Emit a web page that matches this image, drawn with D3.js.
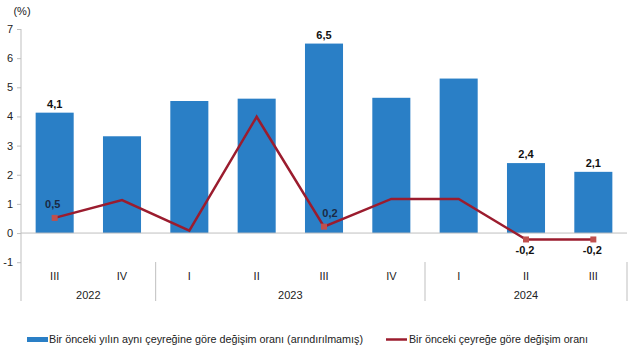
<!DOCTYPE html>
<html><head><meta charset="utf-8">
<script src="https://cdn.jsdelivr.net/npm/d3@7"></script>
<style>body{margin:0;background:#fff}svg{display:block;font-family:"Liberation Sans",Arial,sans-serif}</style>
</head><body><svg id="c" width="641" height="355"></svg>
<script>
const quarters = ["III","IV","I","II","III","IV","I","II","III"];
const years = [{label:"2022",from:0,to:2},{label:"2023",from:2,to:6},{label:"2024",from:6,to:9}];
const annual = [4.13,3.32,4.53,4.61,6.5,4.64,5.3,2.4,2.1];
const annualLabels = ["4,1",null,null,null,"6,5",null,null,"2,4","2,1"];
const quarterly = [0.52,1.13,0.08,3.99,0.22,1.17,1.17,-0.22,-0.22];
const quarterlyLabels = ["0,5",null,null,null,"0,2",null,null,"-0,2","-0,2"];
const yTicks = [-1,0,1,2,3,4,5,6,7];
const legendNames = ["Bir önceki yılın aynı çeyreğine göre değişim oranı (arındırılmamış)","Bir önceki çeyreğe göre değişim oranı"];

const svg = d3.select("#c");
const x = d3.scaleBand().domain(d3.range(quarters.length)).range([21,627]).paddingInner(0.435).paddingOuter(0.2175);
const y = d3.scaleLinear().domain([-1,7]).range([262.2,29]);
const axisCol = "#bfbfbf";
const blue = "#2a7fc6", red = "#9b1c2e", marker = "#c0504d";

// y axis
const ya = svg.append("g").attr("transform","translate(21,0)")
  .call(d3.axisLeft(y).tickValues(yTicks).tickSize(4).tickFormat(d=>d));
ya.select(".domain").remove();
ya.selectAll(".tick line").attr("stroke",axisCol);
ya.selectAll(".tick text").attr("font-size",11).attr("fill","#222").attr("x",-8);
svg.append("line").attr("x1",21).attr("x2",21).attr("y1",y(7)).attr("y2",301).attr("stroke",axisCol);

svg.append("text").attr("x",22).attr("y",15).attr("text-anchor","middle").attr("font-size",11).attr("fill","#222").text("(%)");

// bars
svg.selectAll("rect.bar").data(annual).join("rect").attr("class","bar")
  .attr("x",(d,i)=>x(i)).attr("width",x.bandwidth())
  .attr("y",d=>y(Math.max(0,d))).attr("height",d=>Math.abs(y(d)-y(0)))
  .attr("fill",blue);

// zero line
svg.append("line").attr("x1",21).attr("x2",627).attr("y1",y(0)).attr("y2",y(0)).attr("stroke",axisCol);

// x category separators
const step = x.step();
const seps = [2,6,9];
svg.selectAll("line.sep").data(seps).join("line").attr("class","sep")
  .attr("x1",d=>21+d*step).attr("x2",d=>21+d*step).attr("y1",262).attr("y2",301).attr("stroke",axisCol);

svg.selectAll("text.q").data(quarters).join("text").attr("class","q")
  .attr("x",(d,i)=>x(i)+x.bandwidth()/2).attr("y",280).attr("text-anchor","middle")
  .attr("font-size",11).attr("fill","#222").text(d=>d);
svg.selectAll("text.yr").data(years).join("text").attr("class","yr")
  .attr("x",d=>21+(d.from+d.to)/2*step).attr("y",299).attr("text-anchor","middle")
  .attr("font-size",11).attr("fill","#222").text(d=>d.label);

// line
const cx = i=>x(i)+x.bandwidth()/2;
svg.append("path").datum(quarterly)
  .attr("d",d3.line().x((d,i)=>cx(i)).y(d=>y(d)))
  .attr("fill","none").attr("stroke",red).attr("stroke-width",2.5);
svg.selectAll("rect.mk").data(quarterly.map((v,i)=>({v,i})).filter(d=>quarterlyLabels[d.i]))
  .join("rect").attr("class","mk")
  .attr("x",d=>cx(d.i)-3).attr("y",d=>y(d.v)-3).attr("width",6).attr("height",6).attr("fill",marker);

// labels
svg.selectAll("text.bl").data(annual.map((v,i)=>({v,i})).filter(d=>annualLabels[d.i]))
  .join("text").attr("class","bl")
  .attr("x",d=>cx(d.i)).attr("y",d=>y(d.v)-5).attr("text-anchor","middle")
  .attr("font-size",11).attr("font-weight","bold").attr("fill","#111").text(d=>annualLabels[d.i]);
const qdx = {0:-2, 4:6};
svg.selectAll("text.ql").data(quarterly.map((v,i)=>({v,i})).filter(d=>quarterlyLabels[d.i]))
  .join("text").attr("class","ql")
  .attr("x",d=>cx(d.i)+(qdx[d.i]||-1)).attr("y",d=>d.v<0? y(d.v)+15 : y(d.v)-10).attr("text-anchor","middle")
  .attr("font-size",11).attr("font-weight","bold").attr("fill",d=>d.v<0?"#111":"#1a2a44").text(d=>quarterlyLabels[d.i]);

// legend
svg.append("rect").attr("x",27).attr("y",337).attr("width",21).attr("height",5).attr("fill",blue);
svg.append("text").attr("x",49).attr("y",343).attr("font-size",10.7).attr("textLength",314).attr("lengthAdjust","spacingAndGlyphs").attr("fill","#222").text(legendNames[0]);
svg.append("line").attr("x1",386).attr("x2",407).attr("y1",339.5).attr("y2",339.5).attr("stroke",red).attr("stroke-width",2.5);
svg.append("text").attr("x",409).attr("y",343).attr("font-size",10.7).attr("textLength",179).attr("lengthAdjust","spacingAndGlyphs").attr("fill","#222").text(legendNames[1]);
</script></body></html>
